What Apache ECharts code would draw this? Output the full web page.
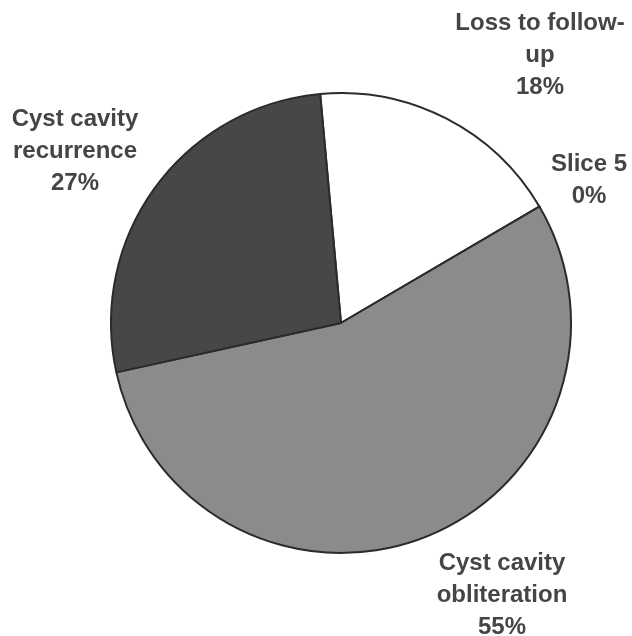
<!DOCTYPE html>
<html>
<head>
<meta charset="utf-8">
<script src="https://cdn.jsdelivr.net/npm/echarts@6/dist/echarts.min.js"></script>
<style>
  html, body { margin: 0; padding: 0; background: #fff; }
  #chart { width: 632px; height: 636px; }
</style>
</head>
<body>
<div id="chart"></div>
<script>
// slices in clockwise order from (just left of) 12 o'clock
const categories = ['Loss to follow-\nup', 'Slice 5', 'Cyst cavity\nobliteration', 'Cyst cavity\nrecurrence']
const values = [18, 0, 55, 27]
const sliceColors = ['#ffffff', '#ffffff', '#8b8b8b', '#474747']
// label anchor points (centre of each text block)
const labelPos = [[540, 55], [589, 180], [502, 595], [75, 151]]

const chart = echarts.init(document.getElementById('chart'))

const option = {
  animation: false,
  backgroundColor: '#ffffff',
  series: [{
    type: 'pie',
    center: [341, 323],
    radius: 230,
    startAngle: 95.2,
    clockwise: true,
    avoidLabelOverlap: false,
    stillShowZeroSum: true,
    minShowLabelAngle: 0,
    data: categories.map((name, i) => ({
      name,
      value: values[i],
      itemStyle: { color: sliceColors[i] }
    })),
    itemStyle: {
      borderColor: '#2b2b2b',
      borderWidth: 2
    },
    label: {
      show: true,
      position: 'outside',
      formatter: p => p.name + '\n' + Math.round(p.percent) + '%',
      color: '#454545',
      fontFamily: 'Liberation Sans, Arial, sans-serif',
      fontWeight: 'bold',
      fontSize: 24,
      lineHeight: 32,
      align: 'center'
    },
    labelLine: { show: false },
    labelLayout: p => ({
      x: labelPos[p.dataIndex][0],
      y: labelPos[p.dataIndex][1],
      align: 'center',
      verticalAlign: 'middle'
    }),
    emphasis: { disabled: true }
  }]
}

chart.setOption(option)
</script>
</body>
</html>
